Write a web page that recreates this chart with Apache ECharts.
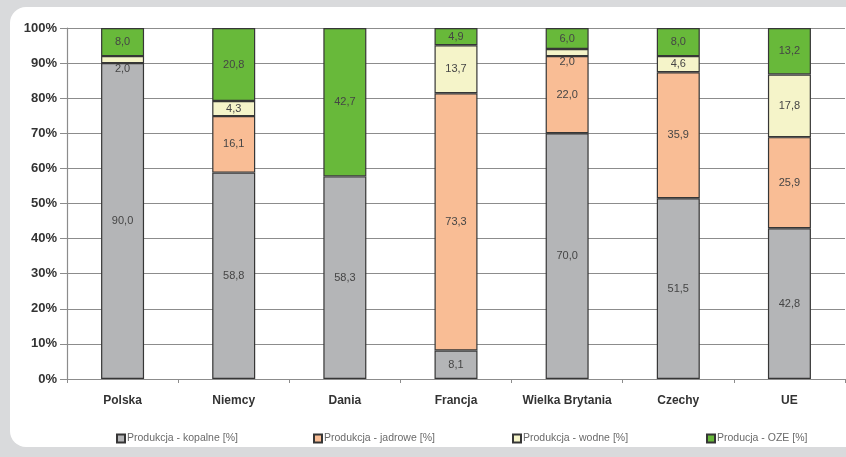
<!DOCTYPE html>
<html>
<head>
<meta charset="utf-8">
<script src="https://cdn.jsdelivr.net/npm/echarts@6/dist/echarts.min.js"></script>
<style>
  html, body { margin: 0; padding: 0; background: #d9dadc; }
  #panel { position: absolute; left: 10px; top: 7px; width: 900px; height: 440px; background: #ffffff; border-radius: 16px; }
  #chart { position: absolute; left: 0; top: 0; width: 846px; height: 457px; }
</style>
</head>
<body>
<div id="panel"></div>
<div id="chart"></div>
<script>
// Struktura produkcji energii elektrycznej wg źródła [%]
const categories = ['Polska', 'Niemcy', 'Dania', 'Francja', 'Wielka Brytania', 'Czechy', 'UE'];
const kopalne = [90.0, 58.8, 58.3, 8.1, 70.0, 51.5, 42.8];
const jadrowe = [0, 16.1, 0, 73.3, 22.0, 35.9, 25.9];
const wodne   = [2.0, 4.3, 0, 13.7, 2.0, 4.6, 17.8];
const oze     = [8.0, 20.8, 42.7, 4.9, 6.0, 8.0, 13.2];
const yTicks = [0, 10, 20, 30, 40, 50, 60, 70, 80, 90, 100];

const seriesDefs = [
  { name: 'Produkcja - kopalne [%]', values: kopalne, color: '#b4b5b7' },
  { name: 'Produkcja - jadrowe [%]', values: jadrowe, color: '#f9bd95' },
  { name: 'Produkcja - wodne [%]',   values: wodne,   color: '#f5f4c9' },
  { name: 'Producja - OZE [%]',      values: oze,     color: '#68b93a' }
];

// 100% stacking: each segment is its share of the bar's total
const totals = categories.map((_, i) => seriesDefs.reduce((s, d) => s + d.values[i], 0));
const fmt = v => v.toFixed(1).replace('.', ',');

const series = seriesDefs.map(d => ({
  name: d.name,
  type: 'bar',
  stack: 'total',
  barWidth: 43,
  itemStyle: { color: d.color, borderColor: '#363636', borderWidth: 1.2 },
  label: {
    show: true,
    position: 'inside',
    color: '#454545',
    fontFamily: 'Liberation Sans, Arial, sans-serif',
    fontSize: 11,
    formatter: p => fmt(p.data.raw)
  },
  data: d.values.map((v, i) => {
    if (!v) return { value: null, raw: 0, label: { show: false } };
    const item = { value: v / totals[i] * 100, raw: v };
    if (v < 3) item.label = { offset: [0, 9] };
    return item;
  })
}));

const legendLefts = [111, 308, 507, 701];
const legends = seriesDefs.map((d, i) => ({
  data: [d.name],
  left: legendLefts[i],
  top: 428,
  itemWidth: 8,
  itemHeight: 8,
  itemGap: 0,
  icon: 'rect',
  textStyle: { color: '#6a6a6a', fontSize: 10.5, fontFamily: 'Liberation Sans, Arial, sans-serif', padding: [0, 0, 0, -3] },
  selectedMode: false
}));

const chart = echarts.init(document.getElementById('chart'), null, { renderer: 'canvas' });
chart.setOption({
  backgroundColor: 'transparent',
  animation: false,
  grid: { left: 67, right: 1, top: 28, bottom: 78, containLabel: false },
  legend: legends,
  xAxis: {
    type: 'category',
    data: categories,
    axisLine: { lineStyle: { color: '#8c8c8c', width: 1.2 } },
    axisTick: { show: true, length: 4, lineStyle: { color: '#8c8c8c' } },
    axisLabel: { interval: 0, color: '#333333', fontWeight: 'bold', fontSize: 12, fontFamily: 'Liberation Sans, Arial, sans-serif', margin: 16 }
  },
  yAxis: {
    type: 'value',
    min: 0,
    max: 100,
    interval: 10,
    axisLine: { show: true, lineStyle: { color: '#8c8c8c', width: 1.2 } },
    axisTick: { show: true, length: 7, lineStyle: { color: '#8c8c8c' } },
    splitLine: { show: true, lineStyle: { color: '#8c8c8c', width: 1.2 } },
    axisLabel: {
      color: '#333333', fontWeight: 'bold', fontSize: 13, fontFamily: 'Liberation Sans, Arial, sans-serif', margin: 10,
      formatter: v => yTicks.includes(v) ? v + '%' : ''
    }
  },
  series: series
});
</script>
</body>
</html>
